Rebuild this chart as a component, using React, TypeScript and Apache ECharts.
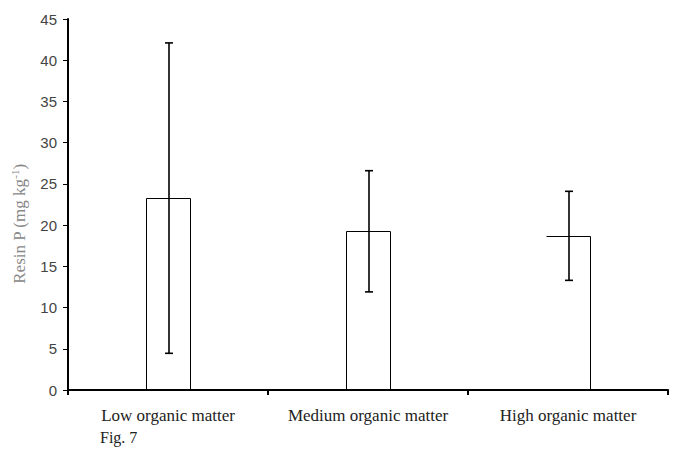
import React, { useEffect, useRef } from "react";
import * as echarts from "echarts";

const categories = ["Low organic matter", "Medium organic matter", "High organic matter"];
const means = [23.3, 19.3, 18.7];
const upper = [42.1, 26.6, 24.1];
const lower = [4.45, 11.9, 13.3];
const yMin = 0;
const yMax = 45;
const yStep = 5;

export default function App() {
  const ref = useRef<HTMLDivElement>(null);
  useEffect(() => {
    if (!ref.current) return;
    const chart = echarts.init(ref.current, null, { renderer: "svg" });
    const data = categories.map((c, i) => [i, means[i], lower[i], upper[i]]);
    const option = {
      animation: false,
      backgroundColor: "#fff",
      grid: { left: 68, right: 8, top: 19, bottom: 60 },
      xAxis: {
        type: "category",
        data: categories,
        boundaryGap: true,
        axisLine: { lineStyle: { color: "#000", width: 2 } },
        axisTick: { show: true, length: 5, lineStyle: { color: "#000", width: 2 } },
        axisLabel: {
          margin: 17,
          color: "#222",
          fontFamily: "Liberation Serif",
          fontSize: 17,
          interval: 0,
        },
      },
      yAxis: {
        type: "value",
        min: yMin,
        max: yMax,
        interval: yStep,
        splitLine: { show: false },
        axisLine: { show: true, lineStyle: { color: "#000", width: 2 } },
        axisTick: { show: true, length: 5, lineStyle: { color: "#000", width: 1 } },
        axisLabel: {
          margin: 11,
          color: "#444",
          fontFamily: "Liberation Sans",
          fontSize: 15,
        },
      },
      graphic: [
        {
          type: "text",
          x: 19,
          y: 224,
          rotation: Math.PI / 2,
          style: {
            text: "{m|Resin P (mg kg}{s|-1}{m|)}",
            align: "center",
            verticalAlign: "middle",
            rich: {
              m: { fontFamily: "Liberation Serif", fontSize: 17, fill: "#888", lineHeight: 20 },
              s: { fontFamily: "Liberation Serif", fontSize: 11, fill: "#888", verticalAlign: "top", lineHeight: 20 },
            },
          },
        },
        {
          type: "text",
          x: 100,
          y: 429,
          style: {
            text: "Fig. 7",
            fontFamily: "Liberation Serif",
            fontSize: 16,
            fill: "#222",
          },
        },
      ],
      series: [
        {
          type: "custom",
          data,
          encode: { x: 0, y: [1, 2, 3] },
          renderItem: (params: any, api: any) => {
            const idx = api.value(0);
            const top = api.coord([idx, api.value(1)]);
            const base = api.coord([idx, 0]);
            const hw = 22;
            const xl = Math.round(top[0] - hw) + 0.5;
            const xr = Math.round(top[0] + hw) + 0.5;
            const yt = Math.round(top[1]) + 0.5;
            const yb = base[1];
            const pts =
              params.dataIndex === 2
                ? [[xl, yt], [xr, yt], [xr, yb]]
                : [[xl, yb], [xl, yt], [xr, yt], [xr, yb]];
            return {
              type: "polyline",
              shape: { points: pts },
              style: { stroke: "#000", fill: null, lineWidth: 1 },
            };
          },
          z: 2,
        },
        {
          type: "custom",
          data,
          encode: { x: 0, y: [1, 2, 3] },
          renderItem: (params: any, api: any) => {
            const idx = api.value(0);
            const lo = api.coord([idx, api.value(2)]);
            const hi = api.coord([idx, api.value(3)]);
            const x = Math.round(lo[0]) + 1;
            const cap = 4;
            const st = { stroke: "#000", lineWidth: 1.6 };
            return {
              type: "group",
              children: [
                { type: "line", shape: { x1: x, y1: lo[1], x2: x, y2: hi[1] }, style: st },
                { type: "line", shape: { x1: x - cap, y1: lo[1], x2: x + cap, y2: lo[1] }, style: st },
                { type: "line", shape: { x1: x - cap, y1: hi[1], x2: x + cap, y2: hi[1] }, style: st },
              ],
            };
          },
          z: 3,
        },
      ],
    };
    chart.setOption(option as any);
    return () => chart.dispose();
  }, []);
  return <div ref={ref} style={{ width: 676, height: 450, position: "fixed", left: 0, top: 0 }} />;
}
